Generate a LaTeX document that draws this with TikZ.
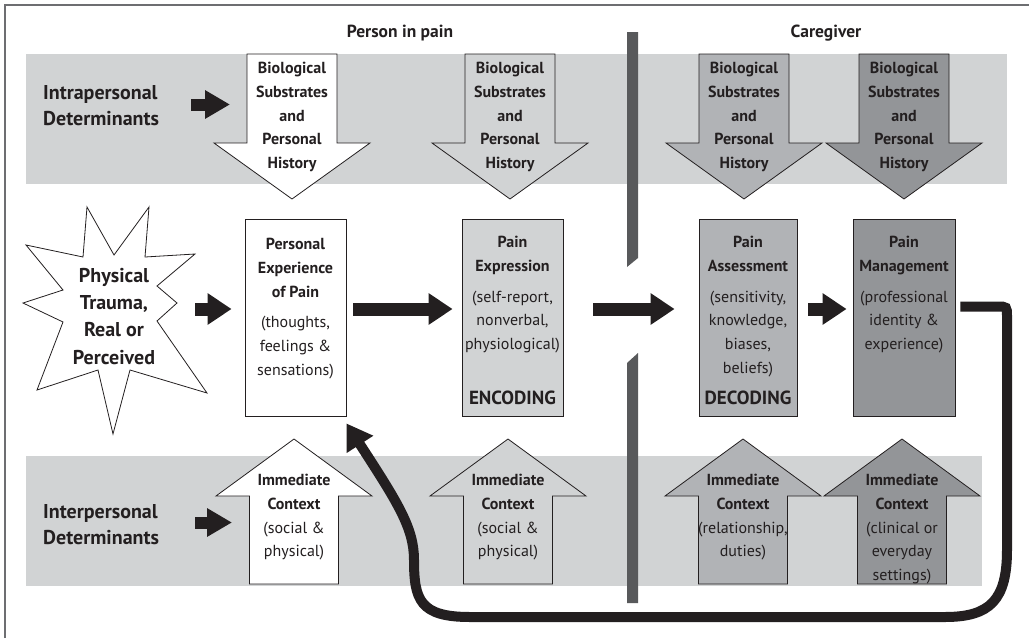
\documentclass[tikz,border=0pt]{standalone}
\usepackage{fontspec}
\setmainfont{PT Sans}
\usetikzlibrary{arrows.meta,calc}

\definecolor{ink}{HTML}{231F20}
\definecolor{band}{HTML}{D1D3D4}
\definecolor{greyB}{HTML}{B1B3B6}
\definecolor{greyC}{HTML}{939598}
\definecolor{divider}{HTML}{58595B}
\definecolor{framegray}{HTML}{6D6E71}

% font sizes used in the figure
\newcommand\txtsize{\fontsize{16}{23.7}\selectfont}
\newcommand\headsize{\fontsize{20}{26}\selectfont}
\newcommand\starsize{\fontsize{20}{27.3}\selectfont}

% block arrow pointing down (shaft from the top band edge), centred at x=#1
\newcommand\DownBlock[2]{%
  \draw[outline, fill=#2] (#1-45,54) -- (#1+45,54) -- (#1+45,143) -- (#1+78,143)
    -- (#1,199) -- (#1-78,143) -- (#1-45,143) -- cycle;}
% block arrow pointing up, centred at x=#1
\newcommand\UpBlock[2]{%
  \draw[outline, fill=#2] (#1-44.5,584) -- (#1+44.5,584) -- (#1+44.5,496) -- (#1+78,496)
    -- (#1,439) -- (#1-78,496) -- (#1-44.5,496) -- cycle;}

\tikzset{
  outline/.style={draw=ink, line width=0.8pt},
  stage/.style={outline, rectangle, minimum height=197pt, inner sep=0pt},
  lbl/.style={anchor=north, inner sep=0pt, align=center, text=ink, font=\txtsize},
  sidelbl/.style={anchor=north west, inner sep=0pt, align=left, text=ink, font=\headsize\bfseries},
  title/.style={anchor=base, inner sep=0pt, text=ink, font=\fontsize{17.5}{20}\selectfont\bfseries},
  codelbl/.style={anchor=base, inner sep=0pt, text=ink, font=\fontsize{19}{22}\selectfont\bfseries},
  bigarrow/.style={draw=ink, line width=13pt, -{Triangle[length=24pt,width=30pt]}},
  smallarrow/.style={draw=ink, line width=12pt, -{Triangle[length=25pt,width=27pt]}},
  feedback/.style={draw=ink, line width=10pt, -{Triangle[length=25pt,width=30pt]}},
}

\begin{document}
\begin{tikzpicture}[x=1pt, y=-1pt]
\useasboundingbox (0,0) rectangle (1029,638);

% frame (top and left edges)
\draw[framegray, line width=1.3pt] (5,638) -- (5,5) -- (1029,5);

% determinant bands
\fill[band] (26,54) rectangle (1007,184);
\fill[band] (26,456) rectangle (982,586);

% divider between person in pain and caregiver
\fill[divider] (627,32) -- (638,32) -- (638,258) -- (627,267) -- cycle;
\fill[divider] (627,363) -- (638,353) -- (638,603) -- (627,603) -- cycle;

% column titles
\node[title] (tperson) at (400,37) {Person in pain};
\node[title] (tcare) at (826,37) {Caregiver};

% side labels
\node[sidelbl] (intra) at (43,81) {\strut Intrapersonal\\Determinants};
\node[sidelbl] (inter) at (43,500) {\strut Interpersonal\\Determinants};

% biological substrates (down arrows)
\DownBlock{292}{white}
\DownBlock{510}{band}
\DownBlock{744}{greyB}
\DownBlock{904}{greyC}
\foreach \cx/\nm in {292/bio1, 510/bio2, 744/bio3, 904/bio4}
  \node[lbl, font=\txtsize\bfseries] (\nm) at (\cx,57) {\strut Biological\\Substrates\\and\\Personal\\History};

% immediate context (up arrows)
\UpBlock{294}{white}
\UpBlock{508}{band}
\UpBlock{743}{greyB}
\UpBlock{902}{greyC}
\node[lbl] (ctx1) at (294,469) {\strut\textbf{Immediate}\\\textbf{Context}\\(social \&\\physical)};
\node[lbl] (ctx2) at (508,469) {\strut\textbf{Immediate}\\\textbf{Context}\\(social \&\\physical)};
\node[lbl] (ctx3) at (743,469) {\strut\textbf{Immediate}\\\textbf{Context}\\(relationship,\\duties)};
\node[lbl] (ctx4) at (902,469) {\strut\textbf{Immediate}\\\textbf{Context}\\(clinical or\\everyday\\settings)};

% trauma star
\draw[outline, fill=white] (87,207) -- (114,255) -- (149,207) -- (145,257) -- (195,254)
  -- (157,286) -- (177,303) -- (157,321) -- (207,393) -- (130,370) -- (113,434)
  -- (98,370) -- (37,390) -- (63,322) -- (23,303) -- (63,290) -- (26,245)
  -- (83,257) -- cycle;
\node[lbl, font=\starsize\bfseries] (trauma) at (114,263) {\strut Physical\\Trauma,\\Real or\\Perceived};

% stages
\node[stage, fill=white, minimum width=101pt] (box1) at (295.5,317.5) {};
\node[stage, fill=band,  minimum width=101pt] (box2) at (512.5,317.5) {};
\node[stage, fill=greyB, minimum width=98pt]  (box3) at (748,317.5) {};
\node[stage, fill=greyC, minimum width=102pt] (box4) at (904,317.5) {};

\node[lbl, font=\txtsize\bfseries] (h1) at (box1.center |- 0,233) {\strut Personal\\Experience\\of Pain};
\node[lbl] (b1) at (box1.center |- 0,311) {\strut(thoughts,\\feelings \&\\sensations)};

\node[lbl, font=\txtsize\bfseries] (h2) at (box2.center |- 0,231) {\strut Pain\\Expression};
\node[lbl] (b2) at (box2.center |- 0,285.5) {\strut(self-report,\\nonverbal,\\physiological)};
\node[codelbl] (enc) at (box2.center |- 0,404) {ENCODING};

\node[lbl, font=\txtsize\bfseries] (h3) at (box3.center |- 0,231) {\strut Pain\\Assessment};
\node[lbl] (b3) at (box3.center |- 0,285.5) {\strut(sensitivity,\\knowledge,\\biases,\\beliefs)};
\node[codelbl] (dec) at (box3.center |- 0,404) {DECODING};

\node[lbl, font=\txtsize\bfseries] (h4) at (box4.center |- 0,231) {\strut Pain\\Management};
\node[lbl] (b4) at (box4.center |- 0,285.5) {\strut(professional\\identity \&\\experience)};

% determinant arrows
\coordinate (ia) at (191,104.5);
\coordinate (ea) at (195,522.5);
\draw[smallarrow] (ia) -- (230,104.5);
\draw[smallarrow] (ea) -- (232,522.5);

% flow arrows
\coordinate (row) at (0,309);
\coordinate (sa) at (195,309);
\draw[bigarrow, shorten >=13pt] (sa) -- (box1.west |- row);
\draw[bigarrow, shorten <=7pt, shorten >=9pt] (box1.east |- row) -- (box2.west |- row);
\draw[bigarrow, shorten <=30pt, shorten >=24pt] (box2.east |- row) -- (box3.west |- row);
\draw[bigarrow, shorten <=11pt, shorten >=6pt] (box3.east |- row) -- (box4.west |- row);

% feedback loop from management back to experience
\draw[feedback] ($(box4.east)+(5,-11)$) -- (997,306.5) .. controls (1007,306.5) .. (1007,316.5)
  -- (1007,550) .. controls (1007,600) and (990,617) .. (945,617)
  -- (470,617) .. controls (420,617) and (414,600) .. (414,560)
  .. controls (414,528) and (398,503) .. ($(box1.south east)+(0,7)$);
\end{tikzpicture}
\end{document}
